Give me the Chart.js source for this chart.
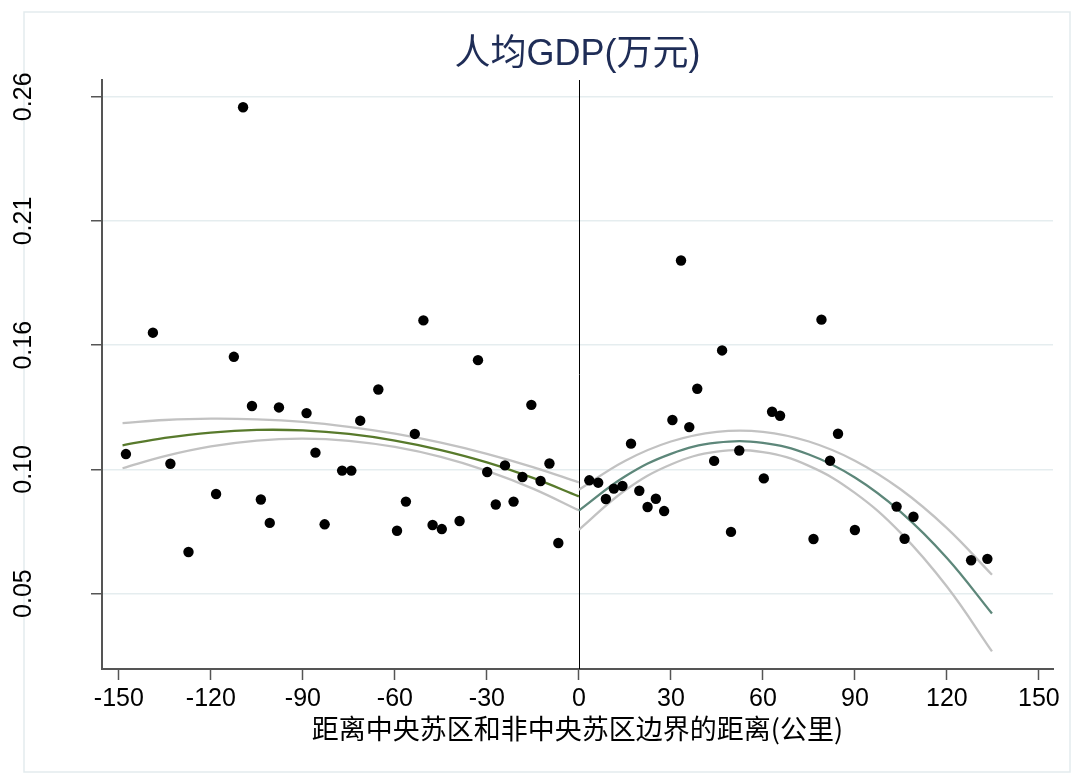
<!DOCTYPE html>
<html>
<head>
<meta charset="utf-8">
<script src="https://cdn.jsdelivr.net/npm/chart.js@4.4.1/dist/chart.umd.min.js"></script>
<style>
  html, body { margin: 0; padding: 0; background: #fff; }
</style>
</head>
<body>
<canvas id="gdpChart" width="1081" height="774"></canvas>
<script>
// scatter: distance to the border (km) vs GDP per capita
const leftX = [-109.5, -138.9, -112.5, -106.6, -97.8, -88.8, -147.7, -133.2, -85.9, -77.2, -74.2, -118.3,
  -103.7, -100.8, -82.9, -127.3, -50.7, -32.9, -65.4, -15.5, -71.3, -53.5, -9.6, -29.9, -24.1, -18.4,
  -12.5, -56.4, -27.1, -21.3, -59.3, -47.7, -44.7, -38.9, -6.7];
const leftY = [0.2556, 0.1603, 0.1501, 0.1293, 0.1287, 0.1263, 0.1090, 0.1049, 0.1096, 0.1020, 0.1020, 0.0921,
  0.0898, 0.0799, 0.0793, 0.0676, 0.1655, 0.1487, 0.1363, 0.1298, 0.1231, 0.1175, 0.1050, 0.1014, 0.1042, 0.0993,
  0.0976, 0.0889, 0.0877, 0.0889, 0.0766, 0.0790, 0.0773, 0.0807, 0.0714];
const rightX = [33.3, 46.7, 38.6, 30.5, 36.0, 63.0, 65.6, 17.0, 52.3, 44.1, 60.3, 3.4, 6.3, 11.4, 14.2, 8.8,
  19.7, 25.1, 22.4, 27.8, 49.6, 76.5, 79.1, 84.5, 81.9, 103.6, 109.1, 90.0, 106.2, 127.9, 133.2];
const rightY = [0.1908, 0.1528, 0.1366, 0.1234, 0.1204, 0.1269, 0.1252, 0.1134, 0.1105, 0.1061, 0.0987, 0.0979,
  0.0969, 0.0944, 0.0955, 0.0900, 0.0935, 0.0901, 0.0866, 0.0849, 0.0761, 0.0731, 0.1658, 0.1176, 0.1062, 0.0868,
  0.0825, 0.0769, 0.0732, 0.0641, 0.0647];

// quadratic fit + 95% CI
const leftFitX = [-148.8, -135, -120, -105, -90, -75, -60, -45, -30, -15, 0];
const leftFit = [0.1127, 0.1158, 0.1181, 0.1192, 0.1190, 0.1175, 0.1147, 0.1107, 0.1055, 0.0989, 0.0911];
const leftUpper = [0.1221, 0.1234, 0.1240, 0.1237, 0.1226, 0.1205, 0.1176, 0.1138, 0.1091, 0.1035, 0.0970];
const leftLower = [0.1030, 0.1081, 0.1122, 0.1147, 0.1155, 0.1146, 0.1120, 0.1078, 0.1019, 0.0944, 0.0852];
const rightFitX = [0, 15, 30, 45, 60, 75, 90, 105, 120, 134.7];
const rightFit = [0.0851, 0.0995, 0.1091, 0.1138, 0.1137, 0.1088, 0.0991, 0.0845, 0.0651, 0.0416];
const rightUpper = [0.0939, 0.1061, 0.1143, 0.1184, 0.1184, 0.1143, 0.1062, 0.0940, 0.0777, 0.0580];
const rightLower = [0.0770, 0.0936, 0.1046, 0.1100, 0.1098, 0.1040, 0.0926, 0.0756, 0.0530, 0.0256];

const xTicks = [-150, -120, -90, -60, -30, 0, 30, 60, 90, 120, 150];
const yTicks = [0.05, 0.1025, 0.155, 0.2075, 0.26];
const yTickLabels = ["0.05", "0.10", "0.16", "0.21", "0.26"];

const titleText = "人均GDP(万元)";
const xTitle = "距离中央苏区和非中央苏区边界的距离(公里)";

function pts(xs, ys) {
  return xs.map((x, i) => ({ x: x, y: ys[i] }));
}

function lineSet(xs, ys, color) {
  return {
    type: "line",
    data: pts(xs, ys),
    borderColor: color,
    borderWidth: 2.3,
    pointRadius: 0,
    tension: 0.4,
    fill: false,
  };
}

const extras = {
  id: "extras",
  beforeDraw(chart) {
    const ctx = chart.ctx;
    ctx.save();
    ctx.fillStyle = "#fff";
    ctx.fillRect(0, 0, chart.width, chart.height);
    ctx.strokeStyle = "#e3ebee";
    ctx.lineWidth = 1.5;
    ctx.strokeRect(24, 12, 1046, 760);
    ctx.restore();
  },
  beforeDatasetsDraw(chart) {
    const ctx = chart.ctx;
    const x0 = chart.scales.x.getPixelForValue(0);
    ctx.save();
    ctx.strokeStyle = "#000";
    ctx.lineWidth = 1;
    ctx.beginPath();
    ctx.moveTo(Math.round(x0) + 0.5, chart.chartArea.top);
    ctx.lineTo(Math.round(x0) + 0.5, chart.chartArea.bottom);
    ctx.stroke();
    ctx.restore();
  },
  afterDraw(chart) {
    const ctx = chart.ctx;
    const ys = chart.scales.y;
    const area = chart.chartArea;
    ctx.save();
    // title
    ctx.fillStyle = "#1f2d57";
    ctx.font = '36px "Liberation Sans", "Noto Sans CJK SC", sans-serif';
    ctx.textAlign = "center";
    ctx.textBaseline = "middle";
    ctx.fillText(titleText, (area.left + area.right) / 2, 55);
    // y tick labels, rotated
    ctx.fillStyle = "#000";
    ctx.font = '25px "Liberation Sans", sans-serif';
    yTicks.forEach((v, i) => {
      ctx.save();
      ctx.translate(24, ys.getPixelForValue(v));
      ctx.rotate(-Math.PI / 2);
      ctx.fillText(yTickLabels[i], 0, 0);
      ctx.restore();
    });
    // x axis title
    ctx.font = '27px "Noto Sans CJK SC", sans-serif';
    ctx.fillText(xTitle, (area.left + area.right) / 2, 729);
    ctx.restore();
  },
};

new Chart(document.getElementById("gdpChart"), {
  type: "scatter",
  data: {
    datasets: [
      {
        data: pts(leftX, leftY),
        backgroundColor: "#000",
        borderWidth: 0,
        pointRadius: 5.2,
      },
      {
        data: pts(rightX, rightY),
        backgroundColor: "#000",
        borderWidth: 0,
        pointRadius: 5.2,
      },
      lineSet(leftFitX, leftFit, "#587a2c"),
      lineSet(rightFitX, rightFit, "#5d877a"),
      lineSet(leftFitX, leftUpper, "#c2c2c2"),
      lineSet(leftFitX, leftLower, "#c2c2c2"),
      lineSet(rightFitX, rightUpper, "#c2c2c2"),
      lineSet(rightFitX, rightLower, "#c2c2c2"),
    ],
  },
  options: {
    responsive: false,
    animation: false,
    layout: { padding: { top: 80, right: 28, left: 0, bottom: 0 } },
    plugins: {
      legend: { display: false },
      tooltip: { enabled: false },
      title: { display: false },
    },
    scales: {
      x: {
        type: "linear",
        min: -155.5,
        max: 154.6,
        afterBuildTicks: (s) => { s.ticks = xTicks.map((v) => ({ value: v })); },
        afterFit: (s) => { s.height = 105; },
        grid: { drawOnChartArea: false, drawTicks: true, tickLength: 11, tickColor: "#555", tickWidth: 1.5 },
        border: { display: true, color: "#555", width: 2 },
        ticks: {
          color: "#000",
          font: { family: '"Liberation Sans", sans-serif', size: 25 },
          padding: 4,
          maxRotation: 0,
          callback: (v) => String(v),
        },
      },
      y: {
        type: "linear",
        min: 0.01815,
        max: 0.2671,
        afterBuildTicks: (s) => { s.ticks = yTicks.map((v) => ({ value: v })); },
        afterFit: (s) => { s.width = 102; },
        grid: { color: "#e5edef", lineWidth: 1.5, drawTicks: true, tickLength: 11, tickColor: "#555", tickWidth: 1.5 },
        border: { display: true, color: "#555", width: 2 },
        ticks: { display: false },
      },
    },
  },
  plugins: [extras],
});
</script>
</body>
</html>
